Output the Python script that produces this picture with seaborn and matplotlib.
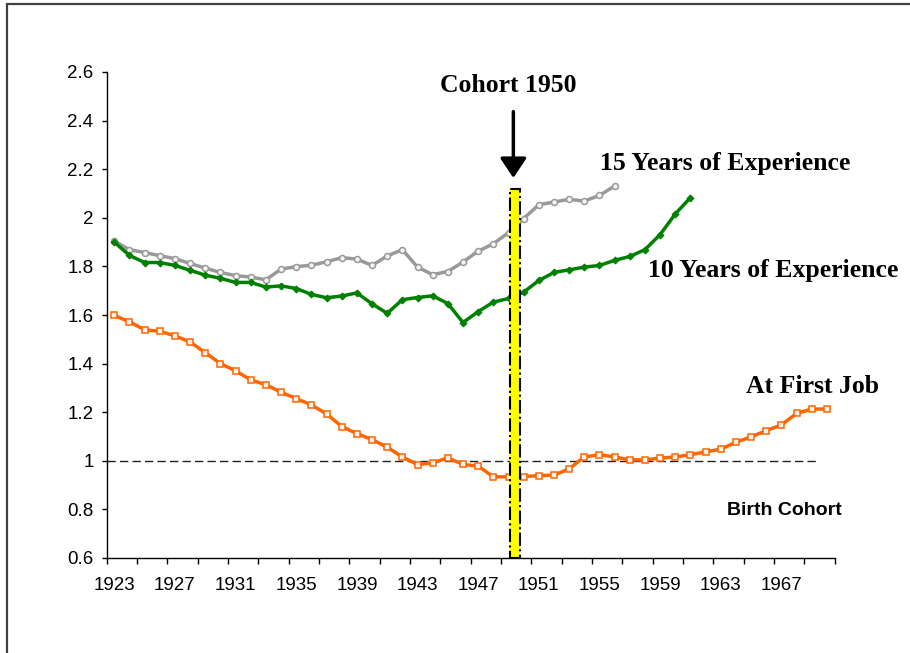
import matplotlib
matplotlib.use("Agg")
import matplotlib.pyplot as plt
from matplotlib.patches import Rectangle
import seaborn as sns
import pandas as pd

# ---- data ----
years = list(range(1923, 1971))
first_job = [1.598, 1.572, 1.539, 1.533, 1.514, 1.489, 1.445, 1.400, 1.370, 1.333,
             1.313, 1.282, 1.256, 1.230, 1.193, 1.141, 1.112, 1.087, 1.056, 1.016,
             0.984, 0.992, 1.012, 0.985, 0.978, 0.934, 0.934, 0.935, 0.939, 0.941,
             0.967, 1.016, 1.025, 1.016, 1.004, 1.004, 1.011, 1.016, 1.025, 1.037,
             1.048, 1.076, 1.099, 1.124, 1.148, 1.195, 1.213, 1.213]
ten_years = [1.900, 1.845, 1.816, 1.816, 1.804, 1.784, 1.764, 1.751, 1.734, 1.734,
             1.715, 1.720, 1.709, 1.685, 1.671, 1.678, 1.691, 1.646, 1.607, 1.663,
             1.672, 1.679, 1.647, 1.569, 1.614, 1.653, 1.668, 1.694, 1.742, 1.775,
             1.786, 1.797, 1.804, 1.825, 1.841, 1.869, 1.931, 2.016, 2.083]
fifteen_years = [1.904, 1.869, 1.857, 1.844, 1.832, 1.812, 1.793, 1.775, 1.762, 1.756,
                 1.745, 1.789, 1.799, 1.805, 1.819, 1.836, 1.830, 1.804, 1.843, 1.869,
                 1.797, 1.766, 1.779, 1.818, 1.863, 1.893, 1.939, 1.997, 2.054, 2.065,
                 2.076, 2.069, 2.092, 2.131]
reference_level = 1.0
cohort_marker_year = 1949.45
cohort_bar_top = 2.118
tick_label_years = list(range(1923, 1968, 4))
y_ticks = [0.6, 0.8, 1.0, 1.2, 1.4, 1.6, 1.8, 2.0, 2.2, 2.4, 2.6]

df_first = pd.DataFrame({"year": years, "value": first_job})
df_ten = pd.DataFrame({"year": years[:len(ten_years)], "value": ten_years})
df_fifteen = pd.DataFrame({"year": years[:len(fifteen_years)], "value": fifteen_years})

W, H = 910, 653
fig = plt.figure(figsize=(W / 100, H / 100), dpi=100)
fig.patch.set_facecolor("white")


def px(x, y):
    return x / W, 1 - y / H


ax_l, ax_r, ax_t, ax_b = 106.7, 834.5, 72, 558
ax = fig.add_axes([ax_l / W, 1 - ax_b / H, (ax_r - ax_l) / W, (ax_b - ax_t) / H])
ax.set_facecolor("white")

sns.lineplot(data=df_fifteen, x="year", y="value", ax=ax, color="#999999",
             marker="o", markersize=4.3, markerfacecolor="#f4f4f4",
             markeredgecolor="#999999", markeredgewidth=1.1, linewidth=2.5, zorder=3)
sns.lineplot(data=df_ten, x="year", y="value", ax=ax, color="#008000",
             marker="D", markersize=3.5, markerfacecolor="#008000",
             markeredgecolor="#008000", linewidth=2.5, zorder=3)
sns.lineplot(data=df_first, x="year", y="value", ax=ax, color="#FF6600",
             marker="s", markersize=4.5, markerfacecolor="#fff2ea",
             markeredgecolor="#FF6600", markeredgewidth=1.1, linewidth=2.5, zorder=3)

ax.plot([1922.5, 1969.5], [reference_level, reference_level], color="#222222",
        linewidth=1.0, linestyle=(0, (6, 3)), zorder=2)

bar_w = 0.64
ax.add_patch(Rectangle((cohort_marker_year - bar_w / 2, 0.6), bar_w, cohort_bar_top - 0.6,
                       facecolor="#FFFF00", edgecolor="black", linewidth=1.5,
                       linestyle="-.", zorder=5))

ax.annotate("", xy=(1949.32, 2.164), xytext=(1949.32, 2.437),
            arrowprops=dict(arrowstyle="-|>,head_length=0.6,head_width=0.4",
                            color="black", lw=2.5, mutation_scale=20,
                            shrinkA=0, shrinkB=0), zorder=6)

ax.set_xlim(1922.5, 1970.5)
ax.set_ylim(0.6, 2.6)
ax.set_xlabel("")
ax.set_ylabel("")

for s in ["top", "right"]:
    ax.spines[s].set_visible(False)
for s in ["left", "bottom"]:
    ax.spines[s].set_color("black")
    ax.spines[s].set_linewidth(1.0)

ax.set_yticks(y_ticks)
ax.set_yticklabels([f"{v:g}" for v in y_ticks], fontsize=13.5, family="Liberation Sans")
ax.tick_params(axis="y", direction="out", length=3.5, width=1, pad=6, color="black")

ax.set_xticks([1922.5 + 2 * i for i in range(25)])
ax.set_xticklabels([])
ax.set_xticks(tick_label_years, minor=True)
ax.set_xticklabels([str(y) for y in tick_label_years], minor=True,
                   fontsize=13.5, family="Liberation Sans")
ax.tick_params(axis="x", which="major", direction="out", length=4, width=1, color="black")
ax.tick_params(axis="x", which="minor", length=0, pad=14)

serif = "Liberation Serif"
fig.text(*px(508.7, 85), "Cohort 1950", ha="center", va="center",
         fontsize=18.5, fontweight="bold", family=serif)
fig.text(*px(600, 163.3), "15 Years of Experience", ha="left", va="center",
         fontsize=18.5, fontweight="bold", family=serif)
fig.text(*px(648.3, 270), "10 Years of Experience", ha="left", va="center",
         fontsize=18.5, fontweight="bold", family=serif)
fig.text(*px(746, 386.7), "At First Job", ha="left", va="center",
         fontsize=18.5, fontweight="bold", family=serif)
fig.text(*px(726.7, 510.7), "Birth Cohort", ha="left", va="center",
         fontsize=14, fontweight="bold", family="Liberation Sans")

x0, y0 = px(7, 4)
fig.patches.append(Rectangle((x0, -0.05), 1.1, y0 + 0.05, transform=fig.transFigure,
                             fill=False, edgecolor="#404040", linewidth=1.6,
                             figure=fig))

fig.savefig("out.png", dpi=100)
